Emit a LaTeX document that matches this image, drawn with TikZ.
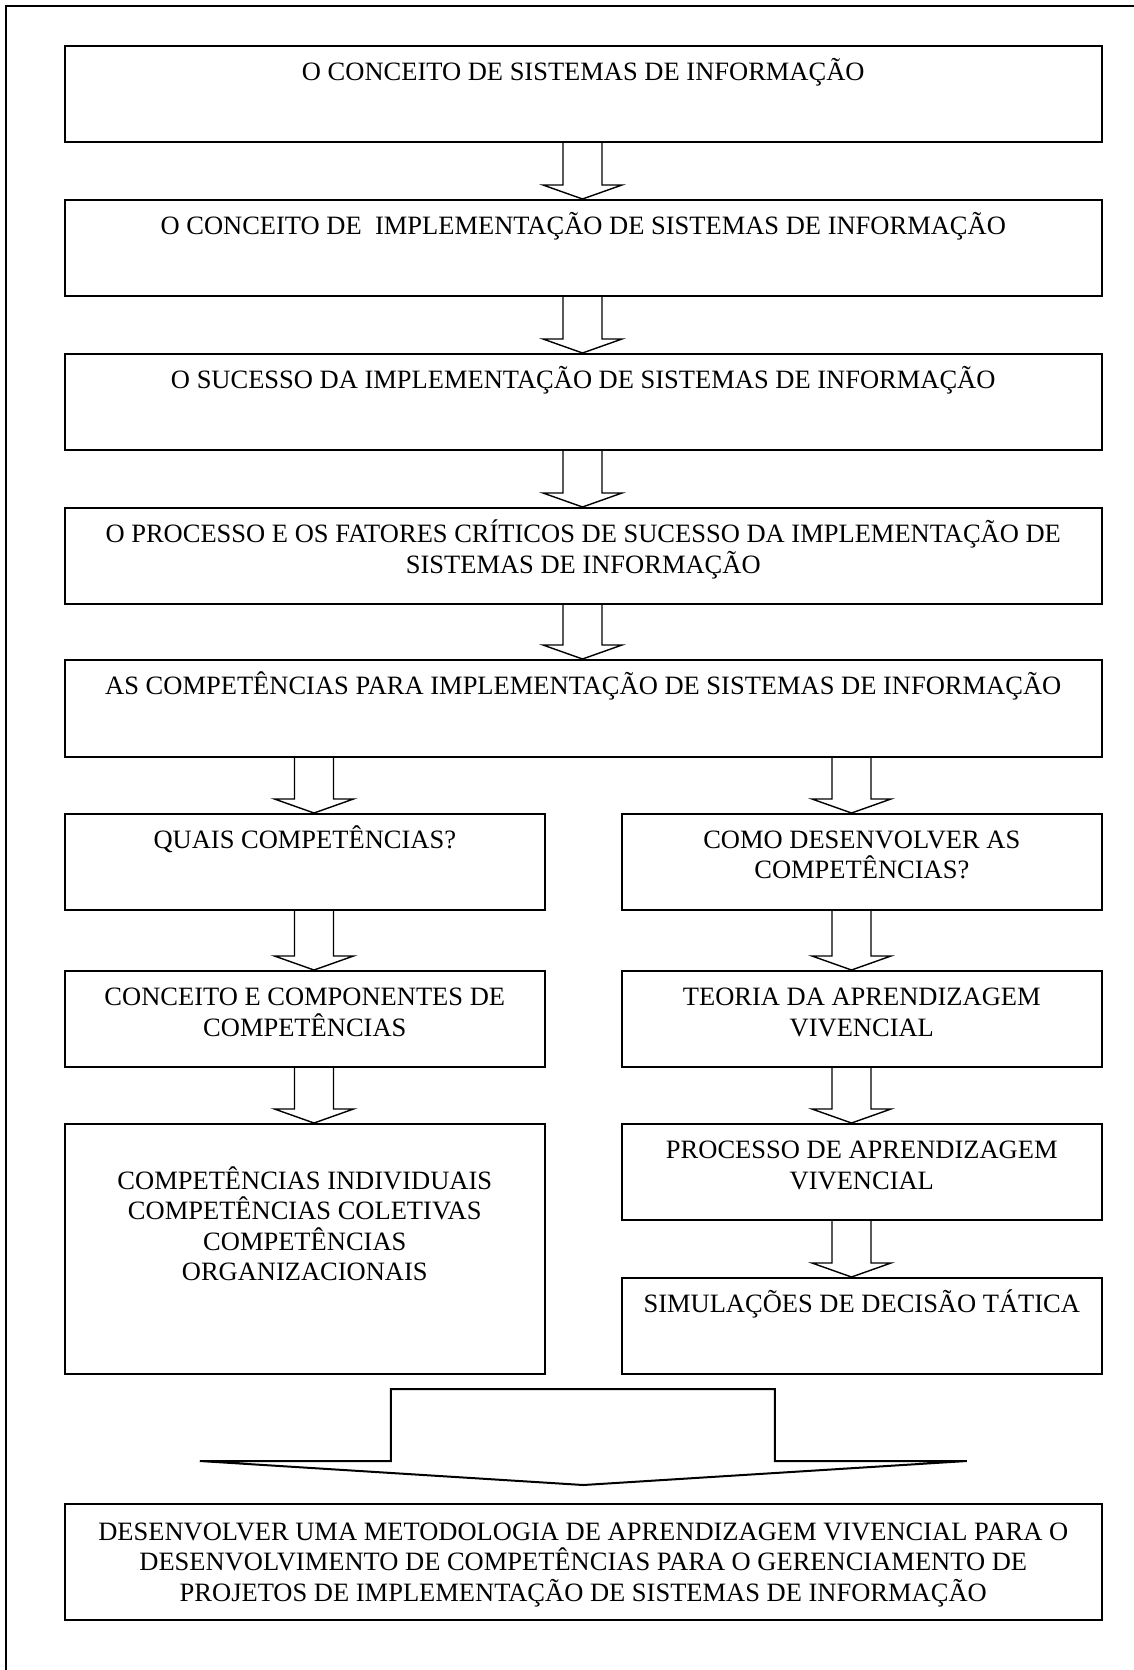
\documentclass[tikz,border=0pt]{standalone}
\usepackage{fontspec}
\setmainfont{Liberation Serif}
\usetikzlibrary{calc}

% strut that fixes the height of the first text line above its baseline
\newcommand\capstrut{\rule{0pt}{26pt}}

% hollow block arrow pointing down from one box to the next
\newcommand\blockdown[3]{%
  \draw[blockarrow]
    ($(#3 |- #1.south)+(-19.5,0)$) --
    ($(#3 |- #2.north)+(-19.5,-14)$) --
    ($(#3 |- #2.north)+(-39.5,-14)$) --
    (#3 |- #2.north) --
    ($(#3 |- #2.north)+(39.5,-14)$) --
    ($(#3 |- #2.north)+(19.5,-14)$) --
    ($(#3 |- #1.south)+(19.5,0)$);}

\tikzset{
  box/.style={draw=black, line width=1.6pt, inner sep=0pt, anchor=north west},
  wide/.style={box, minimum width=1037pt, minimum height=96pt},
  half/.style={box, minimum width=480pt, minimum height=96pt},
  txt/.style={anchor=north, inner sep=0pt, align=center,
              font=\fontsize{26.5}{30.5}\selectfont},
  blockarrow/.style={draw=black, line width=1.4pt, line join=miter},
  frame/.style={draw=black, line width=1.5pt},
}

\begin{document}
\begin{tikzpicture}[x=1pt, y=-1pt]
  \useasboundingbox (0,0) rectangle (1133,1670);
  \fill[white] (0,0) rectangle (1133,1670);

  % page frame (its right and lower sides lie outside the page)
  \draw[frame] (6,1700) -- (6,6) -- (1160,6);

  % main column
  \node[wide] (b1) at (64,45) {};
  \node[wide] (b2) at (64,199) {};
  \node[wide] (b3) at (64,353) {};
  \node[wide] (b4) at (64,507) {};
  \node[wide, minimum height=97pt] (b5) at (64,659) {};

  % left branch
  \node[half] (l1) at (64,813) {};
  \node[half] (l2) at (64,970) {};
  \node[half, minimum height=250pt] (l3) at (64,1123) {};

  % right branch
  \node[half] (r1) at (621,813) {};
  \node[half] (r2) at (621,970) {};
  \node[half] (r3) at (621,1123) {};
  \node[half] (r4) at (621,1277) {};

  % conclusion
  \node[wide, minimum height=116pt] (fin) at (64,1503) {};

  % texts
  \node[txt] (t1) at ($(b1.north)+(0,9.5)$) {\capstrut O CONCEITO DE SISTEMAS DE INFORMAÇÃO};
  \node[txt] (t2) at ($(b2.north)+(0,9.5)$) {\capstrut O CONCEITO DE\ \ IMPLEMENTAÇÃO DE SISTEMAS DE INFORMAÇÃO};
  \node[txt] (t3) at ($(b3.north)+(0,9.5)$) {\capstrut O SUCESSO DA IMPLEMENTAÇÃO DE SISTEMAS DE INFORMAÇÃO};
  \node[txt] (t4) at ($(b4.north)+(0,9.5)$) {\capstrut O PROCESSO E OS FATORES CRÍTICOS DE SUCESSO DA IMPLEMENTAÇÃO DE\\SISTEMAS DE INFORMAÇÃO};
  \node[txt] (t5) at ($(b5.north)+(0,9.5)$) {\capstrut AS COMPETÊNCIAS PARA IMPLEMENTAÇÃO DE SISTEMAS DE INFORMAÇÃO};

  \node[txt] (tl1) at ($(l1.north)+(0,9.5)$) {\capstrut QUAIS COMPETÊNCIAS?};
  \node[txt] (tl2) at ($(l2.north)+(0,9.5)$) {\capstrut CONCEITO E COMPONENTES DE\\COMPETÊNCIAS};
  \node[txt] (tl3) at ($(l3.north)+(0,40)$) {\capstrut COMPETÊNCIAS INDIVIDUAIS\\COMPETÊNCIAS COLETIVAS\\COMPETÊNCIAS\\ORGANIZACIONAIS};

  \node[txt] (tr1) at ($(r1.north)+(0,9)$) {\capstrut COMO DESENVOLVER AS\\COMPETÊNCIAS?};
  \node[txt] (tr2) at ($(r2.north)+(0,9.5)$) {\capstrut TEORIA DA APRENDIZAGEM\\VIVENCIAL};
  \node[txt] (tr3) at ($(r3.north)+(0,9.5)$) {\capstrut PROCESSO DE APRENDIZAGEM\\VIVENCIAL};
  \node[txt] (tr4) at ($(r4.north)+(0,9.5)$) {\capstrut SIMULAÇÕES DE DECISÃO TÁTICA};

  \node[txt] (tfin) at ($(fin.north)+(0,11)$) {\capstrut DESENVOLVER UMA METODOLOGIA DE APRENDIZAGEM VIVENCIAL PARA O\\DESENVOLVIMENTO DE COMPETÊNCIAS PARA O GERENCIAMENTO DE\\PROJETOS DE IMPLEMENTAÇÃO DE SISTEMAS DE INFORMAÇÃO};

  % arrow axes
  \coordinate (cm) at (582.5,0);
  \coordinate (cl) at (314,0);
  \coordinate (cr) at (851.5,0);

  \blockdown{b1}{b2}{cm}
  \blockdown{b2}{b3}{cm}
  \blockdown{b3}{b4}{cm}
  \blockdown{b4}{b5}{cm}

  \blockdown{b5}{l1}{cl}
  \blockdown{l1}{l2}{cl}
  \blockdown{l2}{l3}{cl}

  \blockdown{b5}{r1}{cr}
  \blockdown{r1}{r2}{cr}
  \blockdown{r2}{r3}{cr}
  \blockdown{r3}{r4}{cr}

  % wide arrow gathering both branches into the conclusion
  \coordinate (tip) at ($(fin.north)+(0,-18)$);
  \draw[blockarrow, line width=2pt]
    ($(tip)+(-192.5,-24)$) -- ($(tip)+(-192.5,-96)$) --
    ($(tip)+(191.5,-96)$) -- ($(tip)+(191.5,-24)$) --
    ($(tip)+(383.5,-24)$) -- (tip) --
    ($(tip)+(-383.5,-24)$) -- cycle;
\end{tikzpicture}
\end{document}
